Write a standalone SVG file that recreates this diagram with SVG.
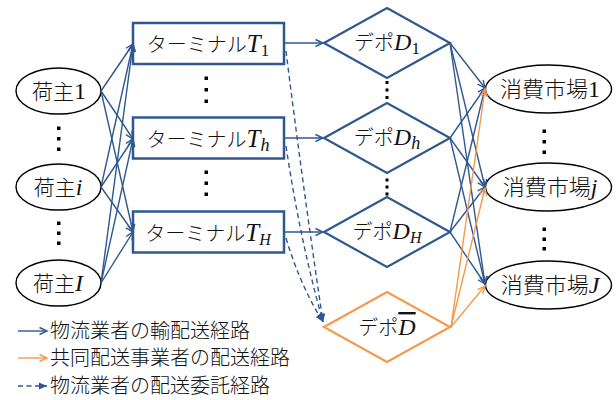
<svg xmlns="http://www.w3.org/2000/svg" width="616" height="400" viewBox="0 0 616 400">
<defs>
<style>
.jp{font-family:"Noto Sans CJK JP",sans-serif;font-weight:300;fill:#111}
.m{font-family:"Liberation Serif",serif;font-style:italic;fill:#111}
.n{font-family:"Liberation Serif",serif;font-style:normal;fill:#111}
.box{fill:#fff;stroke:#2F5891;stroke-width:2.5}
.dia{fill:#fff;stroke:#2F5891;stroke-width:2.2}
.diao{fill:#fff;stroke:#F59A4C;stroke-width:2.2}
.ell{fill:#fff;stroke:#000;stroke-width:1.4}
.c{fill:none;stroke:#2F5891;stroke-width:1.4;marker-end:url(#ab)}
.co{fill:none;stroke:#F59A4C;stroke-width:1.4;marker-end:url(#ao)}
.cd{fill:none;stroke:#2F5891;stroke-width:1.4;stroke-dasharray:5 3.5;marker-end:url(#abf)}
.dot{fill:#000}
</style>
<marker id="ab" markerWidth="10" markerHeight="10" refX="8" refY="4" orient="auto" markerUnits="userSpaceOnUse" overflow="visible"><path d="M0.5,0.5 L8,4 L0.5,7.5" fill="none" stroke="#2F5891" stroke-width="1.4"/></marker>
<marker id="ao" markerWidth="10" markerHeight="10" refX="8" refY="4" orient="auto" markerUnits="userSpaceOnUse" overflow="visible"><path d="M0.5,0.5 L8,4 L0.5,7.5" fill="none" stroke="#F59A4C" stroke-width="1.4"/></marker>
<marker id="abf" markerWidth="10" markerHeight="10" refX="8" refY="4" orient="auto" markerUnits="userSpaceOnUse" overflow="visible"><path d="M0,0.5 L8,4 L0,7.5 z" fill="#2F5891"/></marker>
</defs>

<g id="shipper1"><ellipse class="ell" cx="58.5" cy="91" rx="42.5" ry="23"/><text x="59" y="99" text-anchor="middle"><tspan class="jp" font-size="21">荷主</tspan><tspan class="n" font-size="24">1</tspan></text></g>
<g id="shipperi"><ellipse class="ell" cx="58.5" cy="187" rx="42.5" ry="23"/><text x="58" y="195" text-anchor="middle"><tspan class="jp" font-size="21">荷主</tspan><tspan class="m" font-size="24">i</tspan></text></g>
<g id="shipperI"><ellipse class="ell" cx="58.5" cy="283" rx="42.5" ry="23"/><text x="58" y="291" text-anchor="middle"><tspan class="jp" font-size="21">荷主</tspan><tspan class="m" font-size="24">I</tspan></text></g>

<g id="terminal1"><rect class="box" x="133" y="23" width="151" height="41"/><text x="208" y="52" text-anchor="middle"><tspan class="jp" font-size="20">ターミナル</tspan><tspan class="m" font-size="25">T</tspan><tspan class="n" font-size="17" dy="4">1</tspan></text></g>
<g id="terminalh"><rect class="box" x="133" y="117.5" width="151" height="41"/><text x="208" y="146.5" text-anchor="middle"><tspan class="jp" font-size="20">ターミナル</tspan><tspan class="m" font-size="25">T</tspan><tspan class="m" font-size="18" dy="4">h</tspan></text></g>
<g id="terminalH"><rect class="box" x="133" y="211.5" width="151" height="41"/><text x="208" y="240.5" text-anchor="middle"><tspan class="jp" font-size="20">ターミナル</tspan><tspan class="m" font-size="25">T</tspan><tspan class="m" font-size="16" dy="4">H</tspan></text></g>

<g id="depot1"><polygon class="dia" points="324,43 387,8 450,43 387,78"/><text x="387" y="50" text-anchor="middle"><tspan class="jp" font-size="20">デポ</tspan><tspan class="m" font-size="24">D</tspan><tspan class="n" font-size="17" dy="4">1</tspan></text></g>
<g id="depoth"><polygon class="dia" points="324,138 387,103 450,138 387,173"/><text x="387" y="145" text-anchor="middle"><tspan class="jp" font-size="20">デポ</tspan><tspan class="m" font-size="24">D</tspan><tspan class="m" font-size="18" dy="4">h</tspan></text></g>
<g id="depotH"><polygon class="dia" points="324,232 387,197 450,232 387,267"/><text x="387" y="239" text-anchor="middle"><tspan class="jp" font-size="20">デポ</tspan><tspan class="m" font-size="24">D</tspan><tspan class="m" font-size="16" dy="4">H</tspan></text></g>
<g id="depotBar"><polygon class="diao" points="324,327 387,292 450,327 387,362"/><text x="387" y="335" text-anchor="middle"><tspan class="jp" font-size="20">デポ</tspan><tspan class="m" font-size="24" style="text-decoration:overline">D</tspan></text></g>

<g id="market1"><ellipse class="ell" cx="548.5" cy="89" rx="63" ry="24"/><text x="550" y="97" text-anchor="middle"><tspan class="jp" font-size="22">消費市場</tspan><tspan class="n" font-size="24">1</tspan></text></g>
<g id="marketj"><ellipse class="ell" cx="548.5" cy="187" rx="63" ry="24"/><text x="550" y="195" text-anchor="middle"><tspan class="jp" font-size="22">消費市場</tspan><tspan class="m" font-size="24">j</tspan></text></g>
<g id="marketJ"><ellipse class="ell" cx="548.5" cy="285" rx="63" ry="24"/><text x="550" y="293" text-anchor="middle"><tspan class="jp" font-size="22">消費市場</tspan><tspan class="m" font-size="24">J</tspan></text></g>

<g id="ellipsis">
<rect class="dot" x="57" y="126.5" width="3.5" height="3.5"/><rect class="dot" x="57" y="137" width="3.5" height="3.5"/><rect class="dot" x="57" y="147.5" width="3.5" height="3.5"/>
<rect class="dot" x="57" y="221.5" width="3.5" height="3.5"/><rect class="dot" x="57" y="231.5" width="3.5" height="3.5"/><rect class="dot" x="57" y="241.5" width="3.5" height="3.5"/>
<rect class="dot" x="204.5" y="76.5" width="3.5" height="3.5"/><rect class="dot" x="204.5" y="88" width="3.5" height="3.5"/><rect class="dot" x="204.5" y="99.5" width="3.5" height="3.5"/>
<rect class="dot" x="204.5" y="170.5" width="3.5" height="3.5"/><rect class="dot" x="204.5" y="181.5" width="3.5" height="3.5"/><rect class="dot" x="204.5" y="192.5" width="3.5" height="3.5"/>
<rect class="dot" x="385.5" y="81" width="3" height="3"/><rect class="dot" x="385.5" y="88.5" width="3" height="3"/><rect class="dot" x="385.5" y="96" width="3" height="3"/>
<rect class="dot" x="385.5" y="178.5" width="3" height="3"/><rect class="dot" x="385.5" y="185.5" width="3" height="3"/><rect class="dot" x="385.5" y="192.5" width="3" height="3"/>
<rect class="dot" x="542.5" y="129.5" width="3.5" height="3.5"/><rect class="dot" x="542.5" y="140" width="3.5" height="3.5"/><rect class="dot" x="542.5" y="150.5" width="3.5" height="3.5"/>
<rect class="dot" x="542.5" y="227.5" width="3.5" height="3.5"/><rect class="dot" x="542.5" y="237.5" width="3.5" height="3.5"/><rect class="dot" x="542.5" y="247" width="3.5" height="3.5"/>
</g>

<g id="connectors">
<line class="c" x1="101" y1="91" x2="133" y2="44"/>
<line class="c" x1="101" y1="91" x2="133" y2="139"/>
<line class="c" x1="101" y1="91" x2="133" y2="232"/>
<line class="c" x1="101" y1="187" x2="133" y2="44"/>
<line class="c" x1="101" y1="187" x2="133" y2="139"/>
<line class="c" x1="101" y1="187" x2="133" y2="232"/>
<line class="c" x1="101" y1="283" x2="133" y2="44"/>
<line class="c" x1="101" y1="283" x2="133" y2="139"/>
<line class="c" x1="101" y1="283" x2="133" y2="232"/>
<line class="c" x1="285" y1="43" x2="323" y2="43"/>
<line class="c" x1="285" y1="138" x2="323" y2="138"/>
<line class="c" x1="285" y1="232" x2="323" y2="232"/>
<path class="cd" d="M286,51 Q302,180 323,322"/>
<path class="cd" d="M286,146 Q300,240 323,322"/>
<path class="cd" d="M286,238 Q300,285 323,322"/>
<line class="c" x1="450" y1="43" x2="485" y2="88"/>
<line class="c" x1="450" y1="43" x2="485" y2="187"/>
<line class="c" x1="450" y1="43" x2="485" y2="284"/>
<line class="c" x1="450" y1="138" x2="485" y2="88"/>
<line class="c" x1="450" y1="138" x2="485" y2="187"/>
<line class="c" x1="450" y1="138" x2="485" y2="284"/>
<line class="c" x1="450" y1="232" x2="485" y2="88"/>
<line class="c" x1="450" y1="232" x2="485" y2="187"/>
<line class="c" x1="450" y1="232" x2="485" y2="284"/>
<line class="co" x1="451" y1="327" x2="485" y2="89"/>
<line class="co" x1="451" y1="327" x2="485" y2="188"/>
<line class="co" x1="451" y1="327" x2="485" y2="286"/>
</g>

<g id="legend">
<line class="c" x1="18" y1="331" x2="47" y2="331"/>
<text class="jp" x="50" y="338" font-size="20">物流業者の輸配送経路</text>
<line class="co" x1="18" y1="358" x2="47" y2="358"/>
<text class="jp" x="50" y="365" font-size="20">共同配送事業者の配送経路</text>
<line class="cd" x1="18" y1="386" x2="47" y2="386"/>
<text class="jp" x="50" y="393" font-size="20">物流業者の配送委託経路</text>
</g>
</svg>
